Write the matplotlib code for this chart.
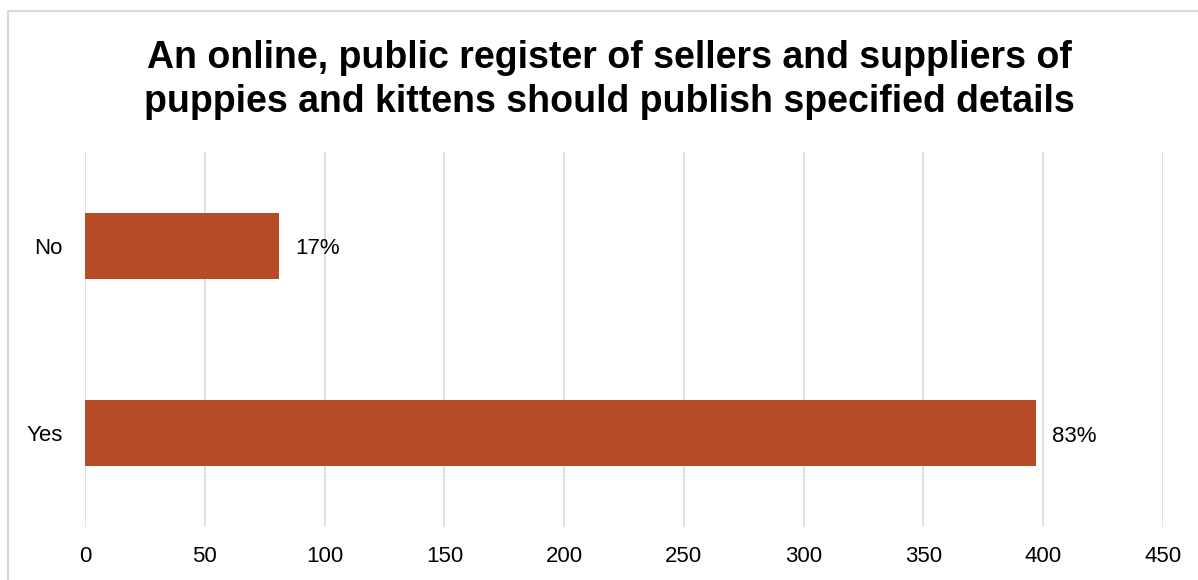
import matplotlib.pyplot as plt
from matplotlib.lines import Line2D

plt.rcParams['font.family'] = ['Liberation Sans', 'DejaVu Sans']

# survey responses
answers = ["Yes", "No"]
counts = [397, 81]
pct_labels = ["83%", "17%"]
x_ticks = [0, 50, 100, 150, 200, 250, 300, 350, 400, 450]

title = ("An online, public register of sellers and suppliers of\n"
         "puppies and kittens should publish specified details")

fig = plt.figure(figsize=(11.98, 5.80), dpi=100)
ax = fig.add_axes([0.0710, 0.0914, 0.8998, 0.6465])

ypos = range(len(answers))
bars = ax.barh(ypos, counts, height=0.35, color="#b54b27", zorder=3)

for bar, lab in zip(bars, pct_labels):
    ax.annotate(lab, (bar.get_width(), bar.get_y() + bar.get_height() / 2),
                xytext=(11.5, -2), textcoords="offset points",
                va="center", ha="left", fontsize=16, color="black")

ax.set_xlim(0, 450)
ax.set_ylim(-0.5, 1.5)
ax.set_xticks(x_ticks)
ax.set_yticks(list(ypos))
ax.set_yticklabels(answers)
ax.tick_params(axis="x", length=0, pad=14, labelsize=16)
ax.tick_params(axis="y", length=0, pad=16, labelsize=16)
ax.grid(axis="x", color="#d9d9d9", linewidth=1.1, zorder=0)
for side in ax.spines.values():
    side.set_visible(False)

fig.text(0.509, 0.862, title, ha="center", va="center", fontsize=27,
         fontweight="bold", linespacing=1.29)

# frame lines along the left and top edges
fig.add_artist(Line2D([0.0063, 0.0063, 1.0], [0.0, 0.9802, 0.9802],
                      transform=fig.transFigure, color="#d9d9d9", linewidth=1.5))

fig.savefig("out.png", dpi=100)
